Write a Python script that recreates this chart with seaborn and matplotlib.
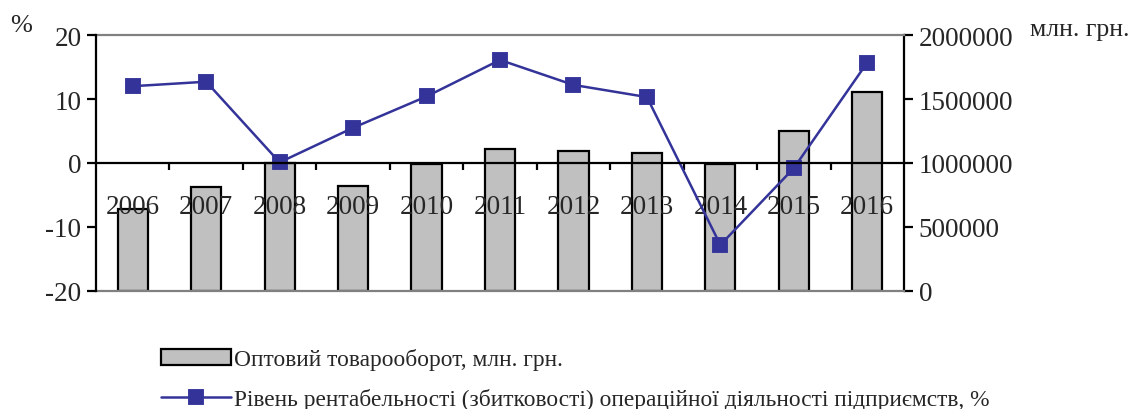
import seaborn as sns
import matplotlib.pyplot as plt
import numpy as np

# Data
years = ['2006', '2007', '2008', '2009', '2010', '2011', '2012', '2013', '2014', '2015', '2016']
turnover = [640000, 815000, 1003000, 823000, 995000, 1109000, 1096000, 1078000, 992000, 1247000, 1557000]
profitability = [12.0, 12.7, 0.1, 5.5, 10.4, 16.1, 12.2, 10.3, -12.8, -0.8, 15.7]

bar_label = 'Оптовий товарооборот, млн. грн.'
line_label = 'Рівень рентабельності (збитковості) операційної діяльності підприємств, %'

sns.set_theme(style='white')
plt.rcParams['font.family'] = ['Liberation Serif', 'DejaVu Serif']
plt.rcParams['axes.unicode_minus'] = False

fig = plt.figure(figsize=(11.37, 4.10), dpi=100)
ax = fig.add_axes([96 / 1137, 1 - 292 / 410, (904 - 96) / 1137, 256 / 410])
ax2 = ax.twinx()

# Bars on the right axis
sns.barplot(x=years, y=turnover, ax=ax2, color='#C0C0C0', saturation=1,
            edgecolor='black', linewidth=1.6, width=0.41, label=bar_label)

# Line on the left axis
sns.pointplot(x=years, y=profitability, ax=ax, color='#333399', markers='s',
              markersize=10.5, linewidth=1.8, errorbar=None, label=line_label)

# line axis on top of bars
ax.set_zorder(ax2.get_zorder() + 1)
ax.patch.set_visible(False)

# Left axis
ax.set_ylim(-20, 20)
ax.set_yticks([-20, -10, 0, 10, 20])
ax.set_xlim(-0.5, 10.5)
ax.spines['bottom'].set_position(('data', 0))
ax.spines['bottom'].set_color('black')
ax.spines['bottom'].set_linewidth(1.6)
ax.spines['left'].set_color('black')
ax.spines['left'].set_linewidth(1.6)
ax.spines['top'].set_visible(False)
ax.spines['right'].set_visible(False)
ax.set_xticks(range(len(years)))
ax.set_xticklabels(years)
ax.set_xticks(np.arange(0.5, len(years) - 1, 1.0), minor=True)
ax.tick_params(axis='x', which='major', length=0, pad=22, labelsize=19.5)
ax.tick_params(axis='x', which='minor', bottom=True, length=5, width=1.6, direction='out', color='black')
ax.tick_params(axis='y', left=True, length=6.5, width=1.6, direction='out', color='black', labelsize=19.5, pad=4)
ax.set_xlabel('')
ax.set_ylabel('')

# Right axis
ax2.set_ylim(0, 2000000)
ax2.set_yticks([0, 500000, 1000000, 1500000, 2000000])
ax2.set_yticklabels(['0', '500000', '1000000', '1500000', '2000000'])
ax2.tick_params(axis='y', right=True, length=6.5, width=1.6, direction='out', color='black', labelsize=19.5, pad=4)
ax2.tick_params(axis='x', which='both', bottom=False, labelbottom=False)
ax2.spines['right'].set_color('black')
ax2.spines['right'].set_linewidth(1.6)
ax2.spines['left'].set_visible(False)
ax2.spines['top'].set_color('#808080')
ax2.spines['top'].set_linewidth(1.6)
ax2.spines['bottom'].set_color('#808080')
ax2.spines['bottom'].set_linewidth(1.6)
ax2.set_xlabel('')
ax2.set_ylabel('')

# Axis unit labels
fig.text(10 / 1137, 1 - 26 / 410, '%', fontsize=19, va='center', ha='left')
fig.text(1030 / 1137, 1 - 30 / 410, 'млн. грн.', fontsize=18.5, va='center', ha='left')

# Legend
h1, l1 = ax2.get_legend_handles_labels()
h2, l2 = ax.get_legend_handles_labels()
for a in (ax, ax2):
    if a.get_legend() is not None:
        a.get_legend().remove()
fig.legend(h1 + h2, l1 + l2, loc='upper left', bbox_to_anchor=(152 / 1137, 1 - 340 / 410),
           frameon=False, fontsize=16.8, handlelength=3.0, handletextpad=0.1,
           labelspacing=0.75, borderaxespad=0)

fig.savefig('out.png', dpi=100)
